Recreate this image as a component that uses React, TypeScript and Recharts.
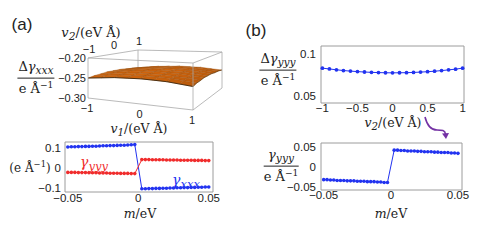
import React from "react";
import { ComposedChart, LineChart, Line, XAxis, YAxis, ReferenceArea, Customized } from "recharts";

const BLUE = "#2233f0";
const RED = "#f02c2c";
const FRAME = "#9c9c9c";
const INK = "#222";
const SANS = "'Liberation Sans', Arial, sans-serif";
const SERIF = "'DejaVu Serif', 'Liberation Serif', serif";

// (a) top: Δγxxx surface, rows are v2, columns are v1
const gridV = [-1, -0.75, -0.5, -0.25, 0, 0.25, 0.5, 0.75, 1];
const surfaceRows = [
  [-0.25, -0.247, -0.244, -0.243, -0.242, -0.243, -0.244, -0.247, -0.25],
  [-0.247, -0.244, -0.241, -0.24, -0.239, -0.24, -0.241, -0.244, -0.247],
  [-0.246, -0.242, -0.24, -0.238, -0.238, -0.238, -0.24, -0.242, -0.246],
  [-0.244, -0.241, -0.238, -0.237, -0.236, -0.237, -0.238, -0.241, -0.244],
  [-0.244, -0.241, -0.238, -0.237, -0.236, -0.237, -0.238, -0.241, -0.244],
  [-0.244, -0.241, -0.238, -0.237, -0.236, -0.237, -0.238, -0.241, -0.244],
  [-0.246, -0.242, -0.24, -0.238, -0.238, -0.238, -0.24, -0.242, -0.246],
  [-0.247, -0.244, -0.241, -0.24, -0.239, -0.24, -0.241, -0.244, -0.247],
  [-0.25, -0.247, -0.244, -0.243, -0.242, -0.243, -0.244, -0.247, -0.25],
];
const zTicks = [-0.2, -0.25, -0.3];
const zTickLabels = ["\u22120.20", "\u22120.25", "\u22120.30"];
const vTicks = [-1, 0, 1];

// m sweep shared by both lower panels
const mValues = [
  -0.05, -0.0475, -0.045, -0.0425, -0.04, -0.0375, -0.035, -0.0325, -0.03, -0.0275,
  -0.025, -0.0225, -0.02, -0.0175, -0.015, -0.0125, -0.01, -0.0075, -0.005, -0.0025,
  0.0025, 0.005, 0.0075, 0.01, 0.0125, 0.015, 0.0175, 0.02, 0.0225, 0.025,
  0.0275, 0.03, 0.0325, 0.035, 0.0375, 0.04, 0.0425, 0.045, 0.0475, 0.05,
];
const gxxxA = [
  0.105, 0.106, 0.106, 0.107, 0.107, 0.108, 0.108, 0.109, 0.109, 0.11,
  0.111, 0.111, 0.112, 0.112, 0.113, 0.114, 0.114, 0.115, 0.116, 0.117,
  -0.104, -0.104, -0.103, -0.103, -0.102, -0.102, -0.101, -0.101, -0.1, -0.1,
  -0.099, -0.099, -0.098, -0.098, -0.097, -0.097, -0.096, -0.096, -0.095, -0.095,
];
const gyyyA = [
  -0.022, -0.022, -0.022, -0.023, -0.023, -0.023, -0.024, -0.024, -0.024, -0.025,
  -0.025, -0.025, -0.026, -0.026, -0.026, -0.027, -0.027, -0.027, -0.028, -0.028,
  0.042, 0.042, 0.042, 0.041, 0.041, 0.041, 0.041, 0.04, 0.04, 0.04,
  0.04, 0.039, 0.039, 0.039, 0.039, 0.038, 0.038, 0.038, 0.037, 0.037,
];
const gyyyB = [
  -0.032, -0.032, -0.033, -0.033, -0.034, -0.034, -0.034, -0.035, -0.035, -0.035,
  -0.036, -0.036, -0.036, -0.037, -0.037, -0.037, -0.038, -0.038, -0.039, -0.039,
  0.042, 0.042, 0.041, 0.041, 0.04, 0.04, 0.04, 0.039, 0.039, 0.038,
  0.038, 0.038, 0.037, 0.037, 0.036, 0.036, 0.036, 0.035, 0.035, 0.034,
];

// (b) top: Δγyyy vs v2
const v2Values = [-1, -0.9, -0.8, -0.7, -0.6, -0.5, -0.4, -0.3, -0.2, -0.1, 0, 0.1, 0.2, 0.3, 0.4, 0.5, 0.6, 0.7, 0.8, 0.9, 1];
const dGyyy = [
  0.0832, 0.0822, 0.0812, 0.0803, 0.0796, 0.079, 0.0785, 0.0781, 0.0778, 0.0776, 0.0775,
  0.0776, 0.0777, 0.078, 0.0784, 0.0789, 0.0795, 0.0802, 0.0811, 0.082, 0.0832,
];

const lowerA = mValues.map((m, i) => ({ m, gxxx: gxxxA[i], gyyy: gyyyA[i] }));
const lowerB = mValues.map((m, i) => ({ m, gyyy: gyyyB[i] }));
const upperB = v2Values.map((v, i) => ({ v, d: dGyyy[i] }));

const fmt = (v: number) => (v === 0 ? "0" : v < 0 ? `\u2212${String(-v)}` : String(v));

// simple box projection for the 3D plot: corners [v2=-1|v2=1][v1=-1|v1=1]
const Z_MIN = -0.3, Z_MAX = -0.2;
const boxTop = [[[88, 58], [193, 63]], [[138, 50], [222, 52]]];
const boxBot = [[[88, 98], [193, 110]], [[138, 86], [222, 88]]];

function bilerp(c: number[][][], a: number, b: number) {
  const x = (1 - b) * ((1 - a) * c[0][0][0] + a * c[0][1][0]) + b * ((1 - a) * c[1][0][0] + a * c[1][1][0]);
  const y = (1 - b) * ((1 - a) * c[0][0][1] + a * c[0][1][1]) + b * ((1 - a) * c[1][0][1] + a * c[1][1][1]);
  return [x, y];
}

function project(v1: number, v2: number, z: number) {
  const a = (v1 + 1) / 2, b = (v2 + 1) / 2, t = (z - Z_MIN) / (Z_MAX - Z_MIN);
  const top = bilerp(boxTop, a, b), bot = bilerp(boxBot, a, b);
  return [bot[0] + t * (top[0] - bot[0]), bot[1] + t * (top[1] - bot[1])];
}

const pts = (list: number[][]) => list.map(p => `${p[0].toFixed(1)},${p[1].toFixed(1)}`).join(" ");

function Surface3D() {
  const n = gridV.length;
  const edge = (p: number[], q: number[], k: string) => (
    <line key={k} x1={p[0]} y1={p[1]} x2={q[0]} y2={q[1]} stroke="#a8a8a8" strokeWidth={0.8} />
  );
  const FTL = project(-1, -1, Z_MAX), FTR = project(1, -1, Z_MAX), BTR = project(1, 1, Z_MAX), BTL = project(-1, 1, Z_MAX);
  const FBL = project(-1, -1, Z_MIN), FBR = project(1, -1, Z_MIN), BBR = project(1, 1, Z_MIN);
  const cells: React.ReactNode[] = [];
  for (let j = n - 2; j >= 0; j--) {
    for (let i = 0; i < n - 1; i++) {
      const corners = [[i, j], [i + 1, j], [i + 1, j + 1], [i, j + 1]];
      const poly = corners.map(([a, b]) => project(gridV[a], gridV[b], surfaceRows[b][a]));
      const zAvg = corners.reduce((s, [a, b]) => s + surfaceRows[b][a], 0) / 4;
      const slope = surfaceRows[j][i + 1] - surfaceRows[j][i];
      const L = 42 + (zAvg + 0.242) * 250 + slope * 500;
      cells.push(<polygon key={`c${i}-${j}`} points={pts(poly)} fill={`hsl(27, 88%, ${L}%)`} stroke="#9a5210" strokeWidth={0.35} />);
    }
  }
  const front = gridV.map((v, i) => project(v, -1, surfaceRows[0][i]));
  const right = gridV.map((v, j) => project(1, v, surfaceRows[j][n - 1]));
  const tickStyle = { fontSize: 11, fontFamily: SANS, fill: INK };
  return (
    <g>
      {edge(BTL, project(-1, 1, surfaceRows[n - 1][0]), "bv")}
      {cells}
      <polyline points={pts(front)} fill="none" stroke="#3e260a" strokeWidth={0.9} />
      <polyline points={pts(right)} fill="none" stroke="#5e380c" strokeWidth={0.7} />
      {edge(FTL, FTR, "e1")}
      {edge(FTR, BTR, "e2")}
      {edge(FTL, BTL, "e3")}
      {edge(BTL, BTR, "e4")}
      {edge(FTL, FBL, "e5")}
      {edge(FTR, FBR, "e6")}
      {edge(FBL, FBR, "e7")}
      {edge(FBR, BBR, "e8")}
      {edge(BTR, BBR, "e9")}
      {zTicks.map((z, k) => {
        const p = project(-1, -1, z);
        return <text key={`z${z}`} x={p[0] - 2} y={p[1]} dy="0.35em" textAnchor="end" {...tickStyle}>{zTickLabels[k]}</text>;
      })}
      {vTicks.map(v => {
        const p = project(-1, v, Z_MAX);
        return <text key={`v2${v}`} x={p[0] + 1} y={p[1] - 9} dy="0.35em" textAnchor="middle" {...tickStyle}>{fmt(v)}</text>;
      })}
      {vTicks.map(v => {
        const p = project(v, -1, Z_MIN);
        return <text key={`v1${v}`} x={p[0] - 1} y={p[1] + 10} dy="0.35em" textAnchor="middle" {...tickStyle}>{fmt(v)}</text>;
      })}
    </g>
  );
}

const tick = { fontSize: 11.5, fontFamily: SANS, fill: INK };

const Sub = ({ main, sub }: { main: string; sub: string }) => (
  <span>
    <i>{main}</i>
    <i style={{ fontSize: "0.82em", position: "relative", top: "0.3em" }}>{sub}</i>
  </span>
);

const Unit = () => (
  <span>
    e Å<span style={{ fontSize: "0.7em", position: "relative", top: "-0.55em" }}>−1</span>
  </span>
);

function Frac({ x, y, num }: { x: number; y: number; num: React.ReactNode }) {
  return (
    <div style={{ position: "absolute", left: x, top: y, transform: "translate(-50%, -50%)", display: "flex", flexDirection: "column", alignItems: "center", fontFamily: SERIF, fontSize: 13, lineHeight: 1, color: INK, whiteSpace: "nowrap" }}>
      <div style={{ padding: "0 1px 4px" }}>{num}</div>
      <div style={{ borderTop: `1px solid ${INK}`, alignSelf: "stretch" }} />
      <div style={{ paddingTop: 3 }}><Unit /></div>
    </div>
  );
}

function Label({ x, y, children, color = INK, size = 13, family = SERIF }: { x: number; y: number; children: React.ReactNode; color?: string; size?: number; family?: string }) {
  return (
    <div style={{ position: "absolute", left: x, top: y, transform: "translate(-50%, -50%)", fontFamily: family, fontSize: size, lineHeight: 1, color, whiteSpace: "nowrap" }}>
      {children}
    </div>
  );
}

const VAxis = ({ n }: { n: string }) => (
  <span><Sub main="v" sub={n} />/(eV Å)</span>
);

export default function App() {
  return (
    <div style={{ position: "absolute", left: 0, top: 0, width: 498, height: 249, background: "#fff", overflow: "hidden" }}>
      <div style={{ position: "absolute", left: 0, top: 0 }}>
        <ComposedChart width={240} height={130} data={upperB} margin={{ top: 0, right: 0, bottom: 0, left: 0 }}>
          <Customized component={Surface3D} />
        </ComposedChart>
      </div>

      <div style={{ position: "absolute", left: 0, top: 130 }}>
        <LineChart width={240} height={100} data={lowerA} margin={{ top: 12, right: 27, bottom: 18, left: 35 }}>
          <XAxis dataKey="m" type="number" domain={[-0.052, 0.053]} ticks={[-0.05, 0, 0.05]} tickFormatter={fmt} tick={tick} tickLine={false} axisLine={false} tickSize={2} tickMargin={0} height={20} />
          <YAxis type="number" domain={[-0.12, 0.13]} ticks={[-0.1, 0, 0.1]} tickFormatter={fmt} tick={tick} tickLine={false} axisLine={false} tickSize={3} tickMargin={1} width={30} />
          <ReferenceArea x1={-0.052} x2={0.053} y1={-0.12} y2={0.13} fill="none" stroke={FRAME} strokeWidth={1} />
          <Line dataKey="gxxx" stroke={BLUE} strokeWidth={1} dot={{ r: 1.8, fill: BLUE, stroke: "none" }} activeDot={false} isAnimationActive={false} />
          <Line dataKey="gyyy" stroke={RED} strokeWidth={1} dot={{ r: 1.8, fill: RED, stroke: "none" }} activeDot={false} isAnimationActive={false} />
        </LineChart>
      </div>

      <div style={{ position: "absolute", left: 260, top: 36 }}>
        <LineChart width={220} height={90} data={upperB} margin={{ top: 10, right: 16, bottom: 5, left: 31 }}>
          <XAxis dataKey="v" type="number" domain={[-1.02, 1.02]} ticks={[-1, -0.5, 0, 0.5, 1]} tickFormatter={fmt} tick={tick} tickLine={false} axisLine={false} tickSize={1} tickMargin={0} height={18} />
          <YAxis type="number" domain={[0.041, 0.11]} ticks={[0.05, 0.1]} tickFormatter={fmt} tick={tick} tickLine={false} axisLine={false} tickSize={3} tickMargin={2} width={30} />
          <ReferenceArea x1={-1.02} x2={1.02} y1={0.041} y2={0.11} fill="none" stroke={FRAME} strokeWidth={1} />
          <Line dataKey="d" stroke={BLUE} strokeWidth={1} dot={{ r: 1.9, fill: BLUE, stroke: "none" }} activeDot={false} isAnimationActive={false} />
        </LineChart>
      </div>

      <div style={{ position: "absolute", left: 260, top: 130 }}>
        <LineChart width={220} height={100} data={lowerB} margin={{ top: 13, right: 18, bottom: 20, left: 31 }}>
          <XAxis dataKey="m" type="number" domain={[-0.052, 0.053]} ticks={[-0.05, 0, 0.05]} tickFormatter={fmt} tick={tick} tickLine={false} axisLine={false} tickSize={1} tickMargin={0} height={20} />
          <YAxis type="number" domain={[-0.058, 0.06]} ticks={[-0.05, 0, 0.05]} tickFormatter={fmt} tick={tick} tickLine={false} axisLine={false} tickSize={3} tickMargin={2} width={30} />
          <ReferenceArea x1={-0.052} x2={0.053} y1={-0.058} y2={0.06} fill="none" stroke={FRAME} strokeWidth={1} />
          <Line dataKey="gyyy" stroke={BLUE} strokeWidth={1} dot={{ r: 1.8, fill: BLUE, stroke: "none" }} activeDot={false} isAnimationActive={false} />
        </LineChart>
      </div>

      <svg width={498} height={249} style={{ position: "absolute", left: 0, top: 0, pointerEvents: "none" }}>
        <path d="M425 117 C427 125 431 130 437 130 C442 130 445 130 445.5 134" stroke="#7432a4" strokeWidth={1.6} fill="none" />
        <path d="M442 133.5 L446 139 L449 133 Z" fill="#7432a4" />
      </svg>

      <Label x={22} y={24} size={17} family={SANS}>(a)</Label>
      <Label x={256} y={30} size={17} family={SANS}>(b)</Label>

      <Label x={91} y={33}><VAxis n="2" /></Label>
      <Label x={139} y={129} size={12.5}><VAxis n="1" /></Label>
      <Frac x={36} y={77} num={<span>Δ<Sub main="γ" sub="xxx" /></span>} />

      <Label x={30} y={168} size={12}>(<Unit />)</Label>
      <Label x={94} y={162} color={RED} size={14}><Sub main="γ" sub="yyy" /></Label>
      <Label x={186} y={180} color={BLUE} size={14}><Sub main="γ" sub="xxx" /></Label>
      <Label x={140} y={214} size={12.5}><i>m</i>/eV</Label>

      <Frac x={278} y={69} num={<span>Δ<Sub main="γ" sub="yyy" /></span>} />
      <Label x={393} y={123} size={12.5}><VAxis n="2" /></Label>
      <Frac x={281} y={165} num={<Sub main="γ" sub="yyy" />} />
      <Label x={391} y={214} size={12.5}><i>m</i>/eV</Label>
    </div>
  );
}
